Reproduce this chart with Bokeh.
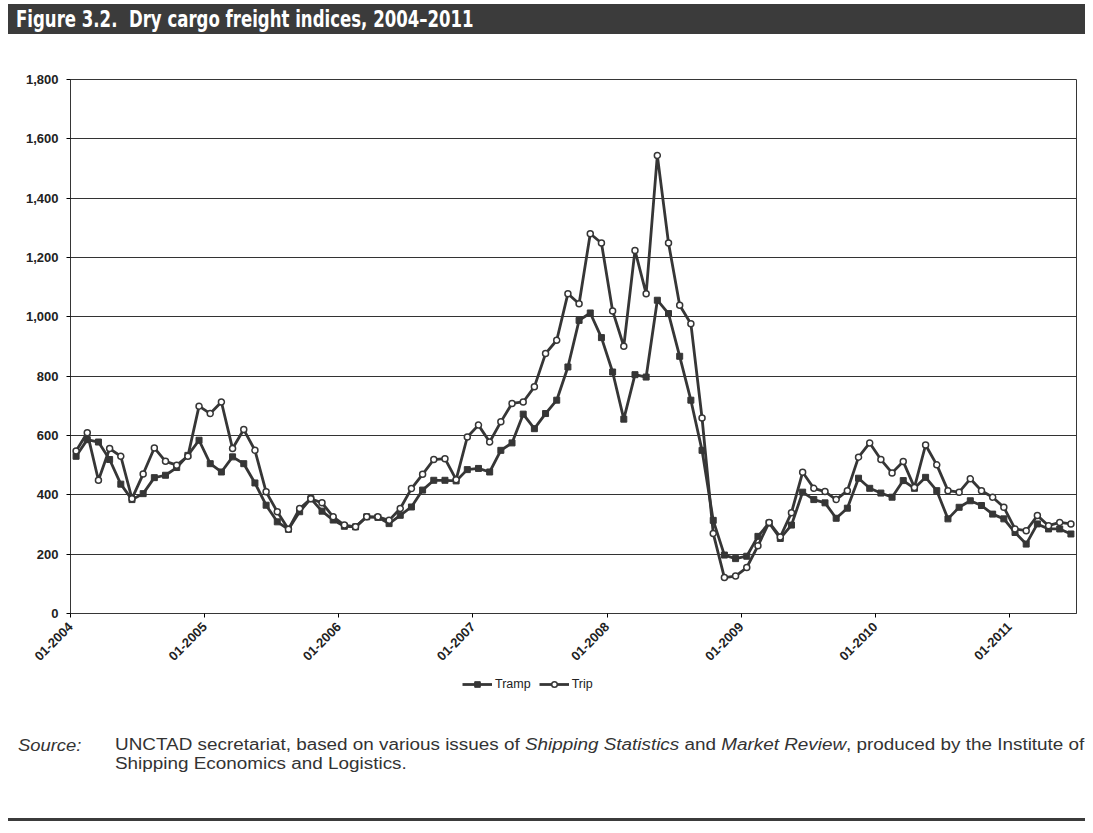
import math
from bokeh.plotting import figure
from bokeh.models import (Range1d, FixedTicker, NumeralTickFormatter, Legend,
                          LegendItem, Div)
from bokeh.layouts import column
from bokeh.embed import file_html
from bokeh.resources import INLINE

# ---- data (monthly, Jan 2004 .. Jun 2011) ----
months = list(range(90))
year_labels = ["01-2004", "01-2005", "01-2006", "01-2007",
               "01-2008", "01-2009", "01-2010", "01-2011"]

tramp = [530, 586, 578, 519, 436, 384, 404, 458, 466, 492, 533, 584,
         505, 477, 528, 505, 440, 365, 309, 284, 343, 387, 345, 315,
         294, 292, 326, 324, 303, 331, 359, 416, 449, 449, 447, 485,
         489, 477, 550, 575, 672, 623, 674, 719, 831, 988, 1013, 930,
         814, 655, 805, 797, 1056, 1011, 867, 719, 550, 314, 197, 185,
         193, 260, 305, 253, 298, 409, 384, 373, 321, 355, 456, 422,
         406, 392, 448, 422, 459, 414, 319, 358, 380, 364, 335, 319,
         273, 234, 302, 285, 285, 268]

trip = [548, 609, 449, 556, 530, 387, 470, 558, 513, 500, 530, 699,
        674, 713, 556, 620, 550, 410, 343, 284, 354, 387, 373, 326,
        298, 292, 326, 326, 314, 354, 421, 469, 519, 522, 451, 595,
        635, 578, 646, 708, 713, 764, 876, 921, 1078, 1044, 1280, 1249,
        1020, 901, 1224, 1078, 1544, 1249, 1039, 977, 659, 270, 121, 126,
        155, 228, 307, 258, 340, 476, 422, 411, 384, 414, 527, 575,
        519, 474, 512, 425, 568, 501, 414, 409, 454, 414, 392, 358,
        285, 279, 330, 296, 307, 302]

y_ticks = [0, 200, 400, 600, 800, 1000, 1200, 1400, 1600, 1800]

DARK = "#363636"

p = figure(width=1093, height=632,
           x_range=Range1d(-0.5, len(months) - 0.5),
           y_range=Range1d(0, 1800),
           output_backend="svg", toolbar_location=None,
           min_border_left=70, min_border_right=17,
           min_border_top=41, min_border_bottom=57,
           background_fill_color="white", border_fill_color="white")

p.outline_line_color = DARK
p.outline_line_width = 1

# grid
p.xgrid.visible = False
p.ygrid.ticker = FixedTicker(ticks=y_ticks)
p.ygrid.grid_line_color = "#333333"
p.ygrid.grid_line_width = 1

# y axis
p.yaxis.ticker = FixedTicker(ticks=y_ticks)
p.yaxis.formatter = NumeralTickFormatter(format="0,0")
p.yaxis.major_label_text_font = "Liberation Sans"
p.yaxis.major_label_text_font_style = "bold"
p.yaxis.major_label_text_font_size = "13px"
p.yaxis.major_label_text_color = "#222222"
p.yaxis.axis_line_color = DARK
p.yaxis.major_tick_out = 4
p.yaxis.major_tick_in = 0
p.yaxis.minor_tick_line_color = None
p.yaxis.major_label_standoff = 8

# x axis: tick at each January boundary
xt = [-0.5 + 12 * k for k in range(len(year_labels))]
p.xaxis.ticker = FixedTicker(ticks=xt)
p.xaxis.major_label_overrides = {t: lab for t, lab in zip(xt, year_labels)}
p.xaxis.major_label_orientation = math.pi / 4
p.xaxis.major_label_text_font = "Liberation Sans"
p.xaxis.major_label_text_font_style = "bold"
p.xaxis.major_label_text_font_size = "13px"
p.xaxis.major_label_text_color = "#222222"
p.xaxis.axis_line_color = DARK
p.xaxis.major_tick_out = 4
p.xaxis.major_tick_in = 0
p.xaxis.minor_tick_line_color = None
p.xaxis.major_label_standoff = 7

# series
p.line(months, tramp, line_color=DARK, line_width=2.8)
p.scatter(months, tramp, marker="square", size=6,
          fill_color=DARK, line_color=DARK)
p.line(months, trip, line_color=DARK, line_width=2.8)
p.scatter(months, trip, marker="circle", size=6,
          fill_color="white", line_color=DARK, line_width=1.5)

# legend strip: a separate svg figure (so the legend is not clipped by the
# main frame). It draws the same series, but its y-range shows none of them,
# so only the legend entries are visible.
lg = figure(width=1093, height=26, output_backend="svg", toolbar_location=None,
            min_border=0, x_axis_type=None, y_axis_type=None,
            x_range=Range1d(-0.5, len(months) - 0.5),
            y_range=Range1d(-2000, -1990),
            background_fill_color="white", border_fill_color="white")
lg.outline_line_color = None
lg.grid.visible = False
r1 = lg.line(months, tramp, line_color=DARK, line_width=2.8)
r1b = lg.scatter(months, tramp, marker="square", size=6, fill_color=DARK, line_color=DARK)
r2 = lg.line(months, trip, line_color=DARK, line_width=2.8)
r2b = lg.scatter(months, trip, marker="circle", size=6, fill_color="white",
                 line_color=DARK, line_width=1.5)
legend = Legend(items=[LegendItem(label="Tramp", renderers=[r1, r1b]),
                       LegendItem(label="Trip", renderers=[r2, r2b])],
                orientation="horizontal", location=(392, 5),
                border_line_color=None, background_fill_alpha=0,
                label_text_font="Liberation Sans",
                label_text_font_size="12.5px",
                label_text_color="#222222",
                glyph_width=30, glyph_height=14, spacing=8, padding=0, margin=0,
                label_standoff=3, label_height=14)
lg.add_layout(legend, "center")

title_div = Div(
    text=("<div style=\"position:relative;width:1093px;height:38px;\">"
          "<div style=\"position:absolute;left:8px;top:4px;width:1077px;height:30px;"
          "background:#3b3b3b;overflow:hidden;\">"
          "<div style=\"position:absolute;left:8px;top:0px;color:#ffffff;"
          "font-family:'DejaVu Sans','Liberation Sans',sans-serif;font-weight:bold;"
          "font-size:23px;line-height:30px;white-space:nowrap;"
          "transform:scaleX(0.72);transform-origin:left center;\">"
          "Figure 3.2.&nbsp; Dry cargo freight indices, 2004\u20132011</div></div></div>"),
    width=1093, height=38, margin=(0, 0, 0, 0))

source_div = Div(
    text=("<div style=\"position:relative;width:1093px;height:137px;"
          "font-family:'Liberation Sans',Arial,sans-serif;font-size:16px;"
          "color:#333333;\">"
          "<div style=\"position:absolute;left:18px;top:39px;font-style:italic;"
          "transform:scaleX(1.15);transform-origin:left top;\">Source:</div>"
          "<div style=\"position:absolute;left:115px;top:39px;line-height:19px;white-space:nowrap;"
          "transform:scaleX(1.18);transform-origin:left top;\">"
          "UNCTAD secretariat, based on various issues of <i>Shipping Statistics</i> and "
          "<i>Market Review</i>, produced by the Institute of<br>"
          "Shipping Economics and Logistics.</div>"
          "<div style=\"position:absolute;left:8px;top:122px;width:1077px;height:3px;"
          "background:#3b3b3b;\"></div>"
          "</div>"),
    width=1093, height=137, margin=(0, 0, 0, 0))

p.margin = (0, 0, 0, 0)
lg.margin = (0, 0, 0, 0)
layout = column(title_div, p, lg, source_div, spacing=0)

open("out.html", "w").write(file_html(layout, INLINE))
